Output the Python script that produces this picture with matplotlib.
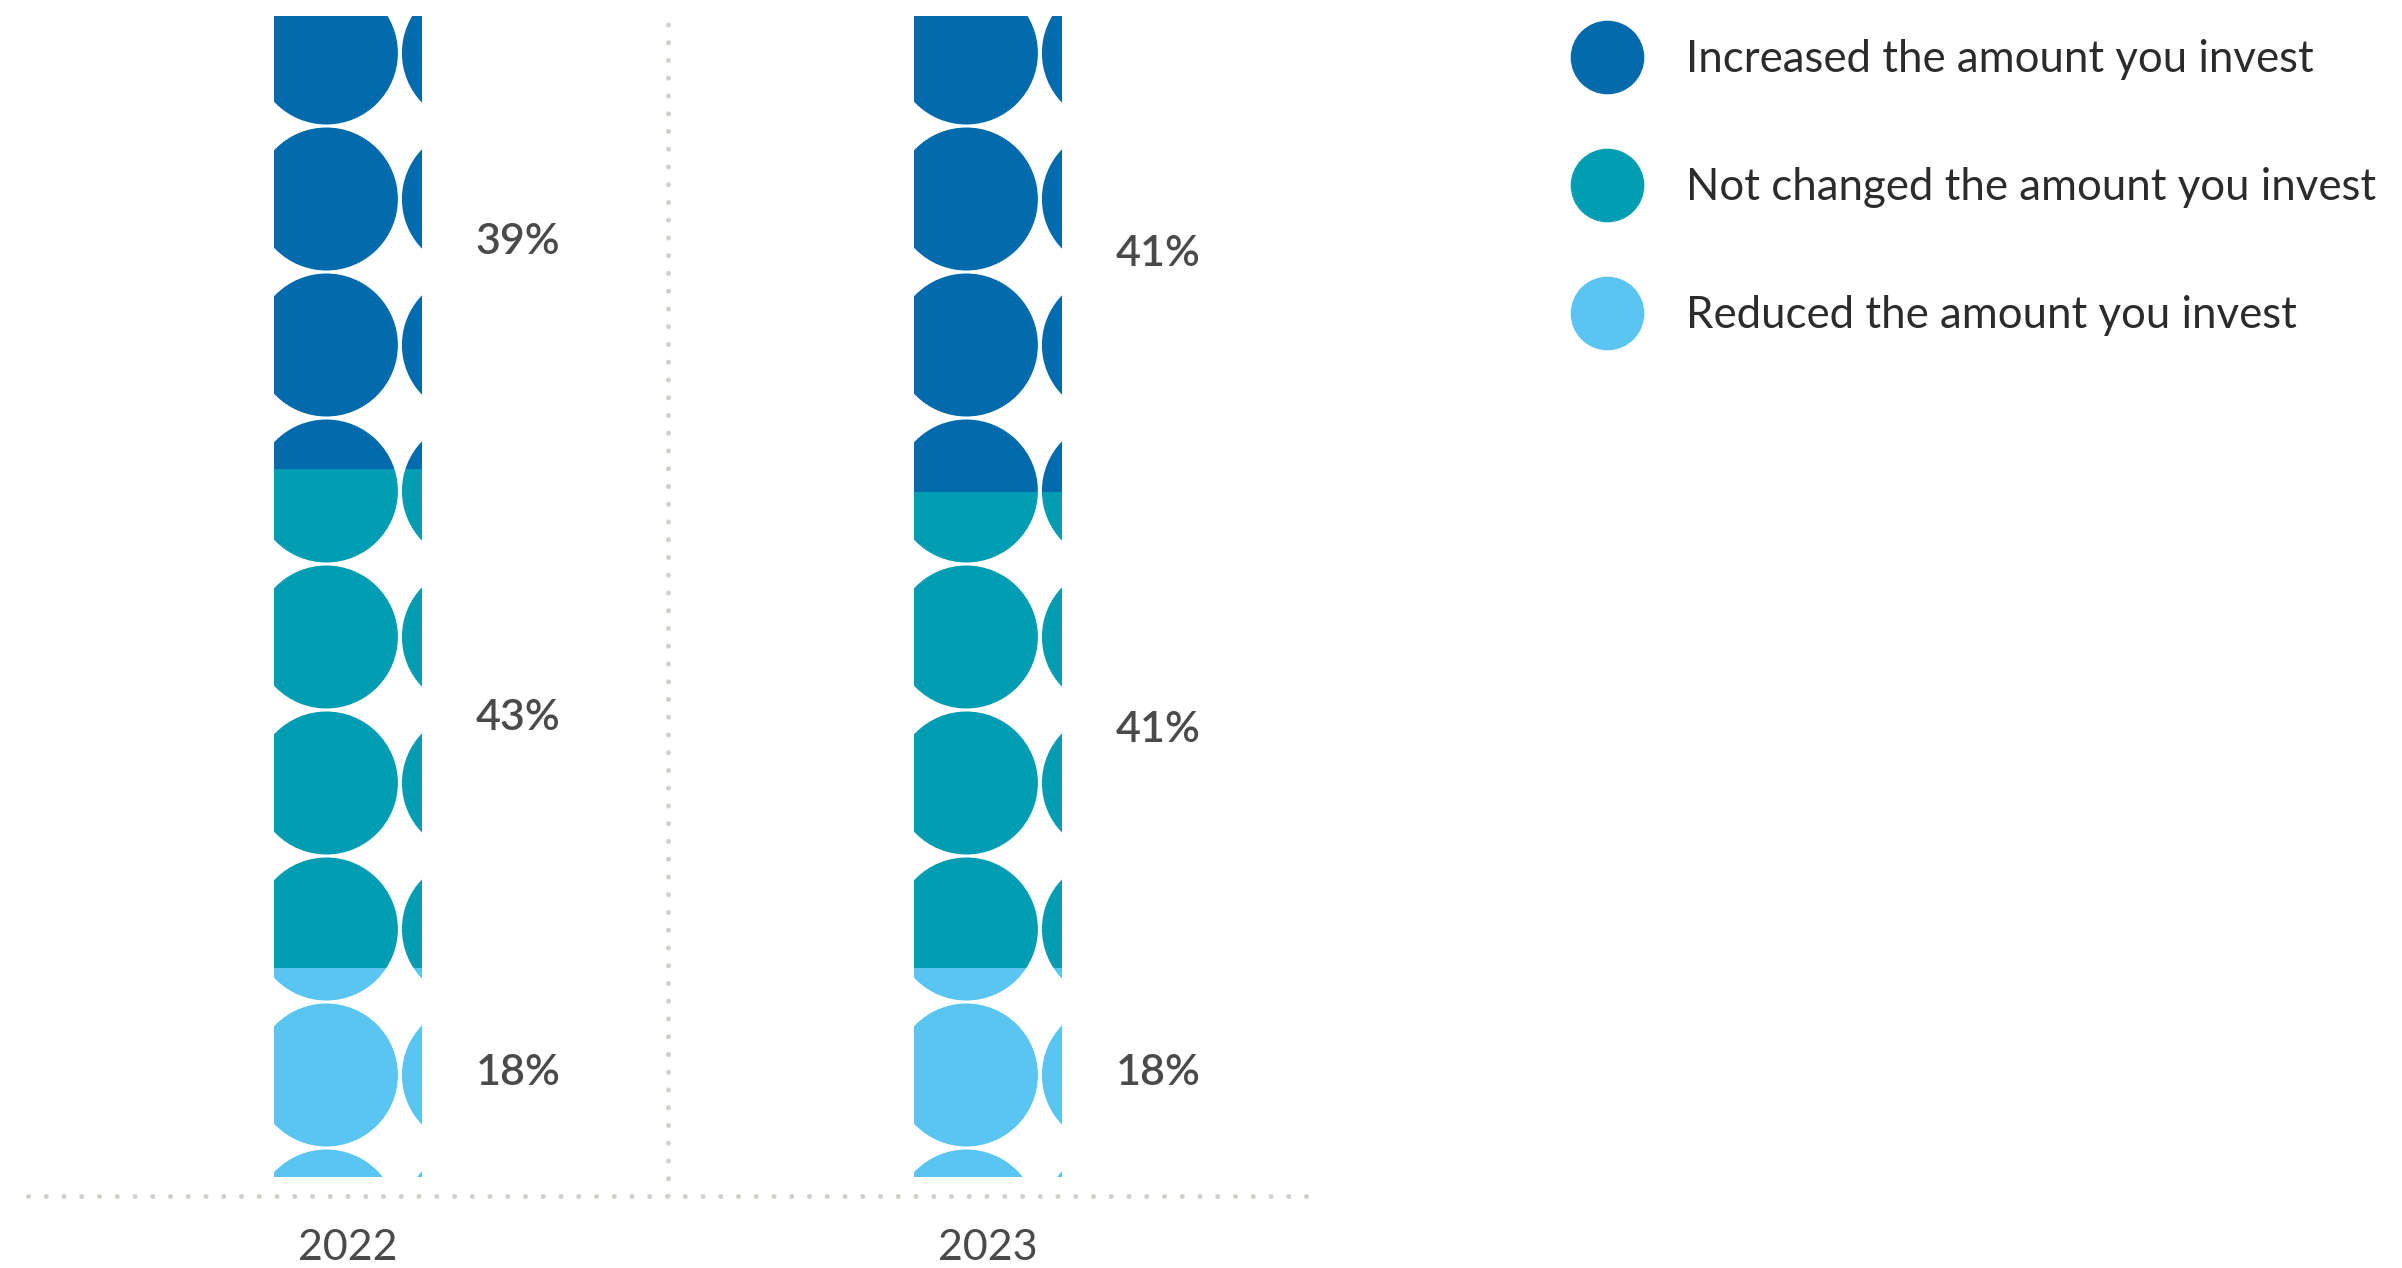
import numpy as np
import matplotlib.pyplot as plt
from matplotlib.patches import Ellipse
from matplotlib.collections import PatchCollection
from matplotlib.lines import Line2D

# ---------- Data ----------
years = ['2022', '2023']
increased = [39, 41]
unchanged = [43, 41]
reduced = [18, 18]

series_labels = ['Increased the amount you invest',
                 'Not changed the amount you invest',
                 'Reduced the amount you invest']
series_colors = ['#036aac', '#029db3', '#5bc5f1']

# ---------- Figure / axes geometry ----------
W, H = 2402, 1268
fig = plt.figure(figsize=(W / 100, H / 100), dpi=100)
plt.rcParams['font.family'] = ['Lato', 'DejaVu Sans']

ax_left, ax_right = 28, 1308          # px from left
ax_top, ax_bottom = 12, 1196          # px from top
ax = fig.add_axes([ax_left / W, 1 - ax_bottom / H,
                   (ax_right - ax_left) / W, (ax_bottom - ax_top) / H])

px_per_pct = 11.61
ax.set_xlim(-0.5, 1.5)
ax.set_ylim(-(ax_bottom - 1177) / px_per_pct, 100 + 4 / px_per_pct)

x = np.arange(len(years))
bar_w = 0.23

# data units per pixel, so the dots stay round
ux = 2.0 / (ax_right - ax_left)
uy = 1.0 / px_per_pct
radius_px = 71.5
pitch_x, pitch_y = 147, 146
off_x, off_y = 52, 37

stacks = [reduced, unchanged, increased]
colors = [series_colors[2], series_colors[1], series_colors[0]]
bottom = np.zeros(len(years))
for vals, col in zip(stacks, colors):
    bars = ax.bar(x, vals, bottom=bottom, width=bar_w, color='none',
                  edgecolor='none')
    # fill each segment with a grid of dots clipped to the bar
    for xi, rect in zip(x, bars.patches):
        left = xi - bar_w / 2
        dots = []
        for i in range(3):
            for j in range(10):
                cx = left + (off_x + i * pitch_x) * ux
                cy = 100 - (off_y + j * pitch_y) * uy
                dots.append(Ellipse((cx, cy), 2 * radius_px * ux,
                                    2 * radius_px * uy))
        pc = PatchCollection(dots, facecolor=col, edgecolor='none')
        ax.add_collection(pc)
        pc.set_clip_path(rect)
    bottom += np.array(vals)

# ---------- Value labels ----------
bottom = np.zeros(len(years))
for vals in stacks:
    for xi, v, b in zip(x, vals, bottom):
        ax.text(xi + 0.199, b + v / 2, f'{v}%', ha='left', va='center',
                fontsize=31, fontweight='semibold', color='#4a4a4a')
    bottom += np.array(vals)

# ---------- Axes styling ----------
dot_col = '#d3cfcb'
for s in ['top', 'right', 'left']:
    ax.spines[s].set_visible(False)
ax.spines['bottom'].set_color(dot_col)
ax.spines['bottom'].set_linewidth(3.6)
ax.spines['bottom'].set_linestyle((0, (0.01, 3.54)))
ax.spines['bottom'].set_capstyle('round')
ax.axvline(0.5, ymin=0, ymax=1, color=dot_col, linewidth=3.6,
           linestyle=(0, (0.01, 3.54)), dash_capstyle='round')

ax.set_yticks([])
ax.set_xticks(x)
ax.set_xticklabels(years, fontsize=31, color='#4a4a4a')
ax.tick_params(axis='x', length=0, pad=24)

# ---------- Legend ----------
handles = [Line2D([], [], linestyle='none', marker='o', markersize=53,
                  markerfacecolor=c, markeredgecolor='none')
           for c in series_colors]
fig.legend(handles, series_labels, loc='upper left',
           bbox_to_anchor=(1585 / W, 1 - 39 / H), frameon=False,
           fontsize=31.5, labelcolor='#2b2b2b', handlelength=1.0,
           handletextpad=1.30, labelspacing=1.99, borderpad=0,
           borderaxespad=0)

fig.savefig('out.png', dpi=100)
